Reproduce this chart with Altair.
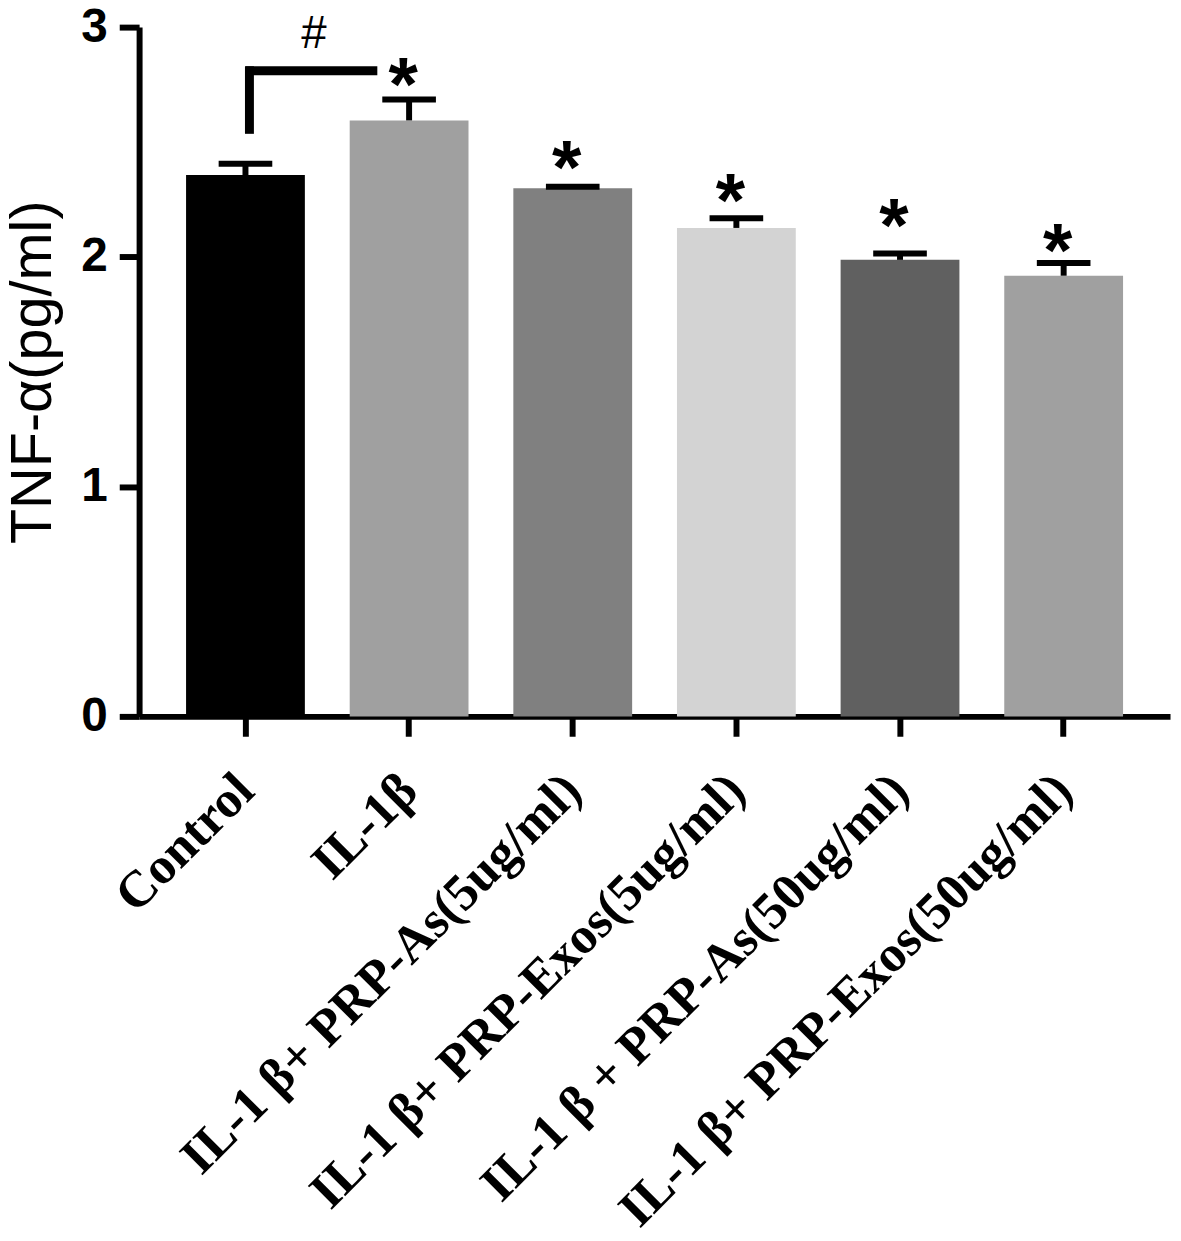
import altair as alt
import pandas as pd

categories = [
    "Control",
    "IL-1β",
    "IL-1 β+ PRP-As(5ug/ml)",
    "IL-1 β+ PRP-Exos(5ug/ml)",
    "IL-1 β + PRP-As(50ug/ml)",
    "IL-1 β+ PRP-Exos(50ug/ml)",
]
means = [2.356, 2.594, 2.299, 2.126, 1.987, 1.918]
uppers = [2.405, 2.685, 2.305, 2.168, 2.015, 1.973]
bar_colors = ["#000000", "#a0a0a0", "#808080", "#d3d3d3", "#606060", "#a0a0a0"]
star_marks = ["", "*", "*", "*", "*", "*"]
star_y = [None, 2.775, 2.411, 2.268, 2.160, 2.052]
y_ticks = [0, 1, 2, 3]

bracket_from = ["Control"]
bracket_to = ["IL-1β"]
bracket_y = [2.81]
bracket_leg_end = [2.555]
hash_text = ["#"]
hash_y = [2.91]

df = pd.DataFrame({
    "cat": categories,
    "mean": means,
    "upper": uppers,
    "star": star_marks,
    "sy": star_y,
})
stars_df = df[df["star"] != ""]
br = pd.DataFrame({"x": bracket_from, "x2": bracket_to, "y": bracket_y,
                   "y2": bracket_leg_end, "t": hash_text, "hy": hash_y})

xscale = alt.Scale(domain=categories, paddingInner=0.274, paddingOuter=0.287)
yscale = alt.Scale(domain=[0, 3], nice=False)

x_axis = alt.Axis(
    title=None, labelAngle=-45, labelAlign="right", labelBaseline="middle",
    labelFont="Liberation Serif", labelFontWeight="bold", labelFontSize=52,
    labelColor="black", labelPadding=46, labelLimit=2000, labelOverlap=False,
    tickSize=20, tickWidth=6, tickColor="black",
    domainWidth=6, domainColor="black", grid=False,
)
y_axis = alt.Axis(
    title="TNF-α(pg/ml)", values=y_ticks, format="d",
    labelFont="Liberation Sans", labelFontWeight="bold", labelFontSize=48,
    labelColor="black", labelPadding=12,
    tickSize=20, tickWidth=6, tickColor="black",
    domainWidth=6, domainColor="black", grid=False,
    titleFont="Liberation Sans", titleFontSize=58, titleFontWeight="normal",
    titleColor="black", titlePadding=19,
)


def X(field):
    return alt.X(field, sort=categories, scale=xscale, axis=x_axis)


def Y(field):
    return alt.Y(field, scale=yscale, axis=y_axis)


base = alt.Chart(df)

bars = base.mark_bar().encode(
    x=X("cat:N"),
    y=Y("mean:Q"),
    color=alt.Color("cat:N", scale=alt.Scale(domain=categories, range=bar_colors), legend=None),
)

err = base.mark_rule(color="black", strokeWidth=6).encode(
    x=X("cat:N"),
    y=Y("mean:Q"),
    y2="upper:Q",
)

caps = base.mark_tick(color="black", size=54, thickness=6, opacity=1).encode(
    x=X("cat:N"),
    y=Y("upper:Q"),
)

stars = alt.Chart(stars_df).mark_text(
    font="Liberation Sans", fontWeight="bold", fontSize=76, color="black",
    baseline="alphabetic", align="center", dx=-6, dy=31,
).encode(
    x=X("cat:N"),
    y=Y("sy:Q"),
    text="star:N",
)

br_h = alt.Chart(br).mark_rule(color="black", strokeWidth=9, x2Offset=-32).encode(
    x=X("x:N"),
    x2="x2:N",
    y=Y("y:Q"),
)
br_v = alt.Chart(br).mark_rule(color="black", strokeWidth=9, strokeCap="square", xOffset=4).encode(
    x=X("x:N"),
    y=Y("y:Q"),
    y2="y2:Q",
)
hash_mark = alt.Chart(br).mark_text(
    font="Liberation Sans", fontSize=46, color="black", baseline="alphabetic",
    align="center", dx=69,
).encode(
    x=X("x:N"),
    y=Y("hy:Q"),
    text="t:N",
)

chart = alt.layer(bars, err, caps, stars, br_h, br_v, hash_mark).properties(
    width=1038,
    height=694,
    background="white",
    autosize=alt.AutoSizeParams(type="none"),
    padding={"left": 132, "top": 15, "right": 3, "bottom": 528},
).configure_view(stroke=None)

chart.save("out.html", embed_options={"renderer": "svg", "actions": False})
